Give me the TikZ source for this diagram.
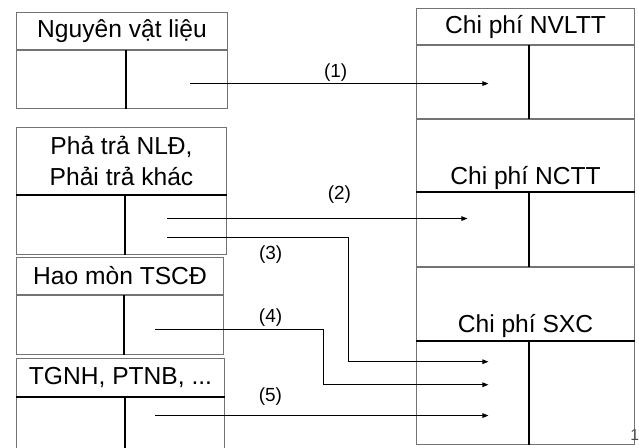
\documentclass[tikz,border=0pt]{standalone}
\usepackage{fontspec}
\setmainfont{Liberation Sans}
\usetikzlibrary{arrows.meta,positioning}

\begin{document}
\begin{tikzpicture}[
  x=0.02cm, y=-0.02cm,
  hdr/.style={draw=black!55, line width=0.6pt, inner sep=0pt, align=center, font=\fontsize{14}{17.5}\selectfont},
  cell/.style={draw=black!55, line width=0.6pt, inner sep=0pt},
  txt/.style={inner sep=0pt, font=\fontsize{14}{17.5}\selectfont},
  lbl/.style={inner sep=0pt, font=\fontsize{10.8}{13}\selectfont},
  thk/.style={line width=1.2pt},
  dv/.style={line width=0.9pt},
  arr/.style={-{Triangle[length=3.5pt,width=2.6pt]}, line width=0.6pt}
]
\useasboundingbox (0,0) rectangle (639,447);

\node[hdr, minimum width=4.22cm, minimum height=0.74cm, anchor=north west] (nvl) at (16,12) {Nguyên vật liệu};
\node[cell, minimum width=2.18cm, minimum height=1.16cm, anchor=north west] (nvl-l) at (nvl.south west) {};
\node[cell, minimum width=2.04cm, minimum height=1.16cm, anchor=north east] (nvl-r) at (nvl.south east) {};

\node[hdr, minimum width=4.2cm, minimum height=1.34cm, anchor=north west] (phai) at (16,127) {Phả trả NLĐ,\\Phải trả khác};
\node[cell, minimum width=2.16cm, minimum height=1.18cm, anchor=north west] (phai-l) at (phai.south west) {};
\node[cell, minimum width=2.04cm, minimum height=1.18cm, anchor=north east] (phai-r) at (phai.south east) {};

\node[hdr, minimum width=4.14cm, minimum height=0.74cm, anchor=north west] (hao) at (16,257) {Hao mòn TSCĐ};
\node[cell, minimum width=2.14cm, minimum height=1.18cm, anchor=north west] (hao-l) at (hao.south west) {};
\node[cell, minimum width=2.0cm, minimum height=1.18cm, anchor=north east] (hao-r) at (hao.south east) {};

\node[hdr, minimum width=4.16cm, minimum height=0.76cm, anchor=north west] (tgnh) at (16,358) {TGNH, PTNB, ...};
\node[cell, minimum width=2.16cm, minimum height=1.18cm, anchor=north west] (tgnh-l) at (tgnh.south west) {};
\node[cell, minimum width=2.0cm, minimum height=1.18cm, anchor=north east] (tgnh-r) at (tgnh.south east) {};

\node[hdr, minimum width=4.36cm, minimum height=0.72cm, anchor=north west] (nvltt) at (416,8) {Chi phí NVLTT};
\node[cell, minimum width=2.24cm, minimum height=1.46cm, anchor=north west] (nvltt-l) at (nvltt.south west) {};
\node[cell, minimum width=2.12cm, minimum height=1.46cm, anchor=north east] (nvltt-r) at (nvltt.south east) {};

\node[cell, minimum width=4.36cm, minimum height=1.44cm, anchor=north west] (ncttH) at (nvltt-l.south west) {};
\node[txt, above=1pt of ncttH.south] (ncttT) {Chi phí NCTT};
\node[cell, minimum width=2.24cm, minimum height=1.48cm, anchor=north west] (nctt-l) at (ncttH.south west) {};
\node[cell, minimum width=2.12cm, minimum height=1.48cm, anchor=north east] (nctt-r) at (ncttH.south east) {};

\node[cell, minimum width=4.36cm, minimum height=1.46cm, anchor=north west] (sxcH) at (nctt-l.south west) {};
\node[txt, above=2pt of sxcH.south] (sxcT) {Chi phí SXC};
\node[cell, minimum width=2.24cm, minimum height=2.06cm, anchor=north west] (sxc-l) at (sxcH.south west) {};
\node[cell, minimum width=2.12cm, minimum height=2.06cm, anchor=north east] (sxc-r) at (sxcH.south east) {};

\node[lbl, font=\fontsize{9}{10}\selectfont, text=black!70, anchor=east] (pg) at (639.5,435) {1};

\draw[thk] (phai.south west) -- (phai.south east);
\draw[thk] (tgnh.south west) -- (tgnh.south east);
\draw[thk] (ncttH.south west) -- (ncttH.south east);
\draw[thk] (sxcH.south west) -- (sxcH.south east);

\draw[dv] (nvl-l.north east) -- (nvl-l.south east);
\draw[dv] (phai-l.north east) -- (phai-l.south east);
\draw[dv] (hao-l.north east) -- (hao-l.south east);
\draw[dv] (tgnh-l.north east) -- (tgnh-l.south east);
\draw[dv] (nvltt-l.north east) -- (nvltt-l.south east);
\draw[dv] (nctt-l.north east) -- (nctt-l.south east);
\draw[dv] (sxc-l.north east) -- (sxc-l.south east);

\coordinate (s1) at ([shift={(14,4)}]nvl-r.center);
\coordinate (s2) at ([shift={(-8,-6.5)}]phai-r.center);
\coordinate (s3) at ([shift={(-8,12.5)}]phai-r.center);
\coordinate (s4) at ([shift={(-18,4.5)}]hao-r.center);
\coordinate (s5) at ([shift={(-19,-11.5)}]tgnh-r.center);
\coordinate (e1) at ([shift={(16,0)}]nvltt-l.center);
\coordinate (e2) at ([shift={(-5,0)}]nctt-l.center);
\coordinate (e3) at ([shift={(16,-31.5)}]sxc-l.center);
\coordinate (e4) at ([shift={(16,-8.5)}]sxc-l.center);
\coordinate (e5) at ([shift={(16,0)}]sxc-l.center);

\draw[arr] (s1) -- node[lbl, above=1pt, pos=0.487] {(1)} (s1 -| e1);
\draw[arr] (s2) -- node[lbl, above=8.5pt, pos=0.573] {(2)} (s2 -| e2);
\draw[arr] (s3) -- node[lbl, below=4.5pt, pos=0.57] {(3)} ++(181,0) |- (e3);
\draw[arr] (s4) -- node[lbl, above=1.7pt, pos=0.685] {(4)} ++(168,0) |- (e4);
\draw[arr] (s5) -- node[lbl, above=5.7pt, pos=0.345] {(5)} (s5 -| e5);
\end{tikzpicture}
\end{document}
